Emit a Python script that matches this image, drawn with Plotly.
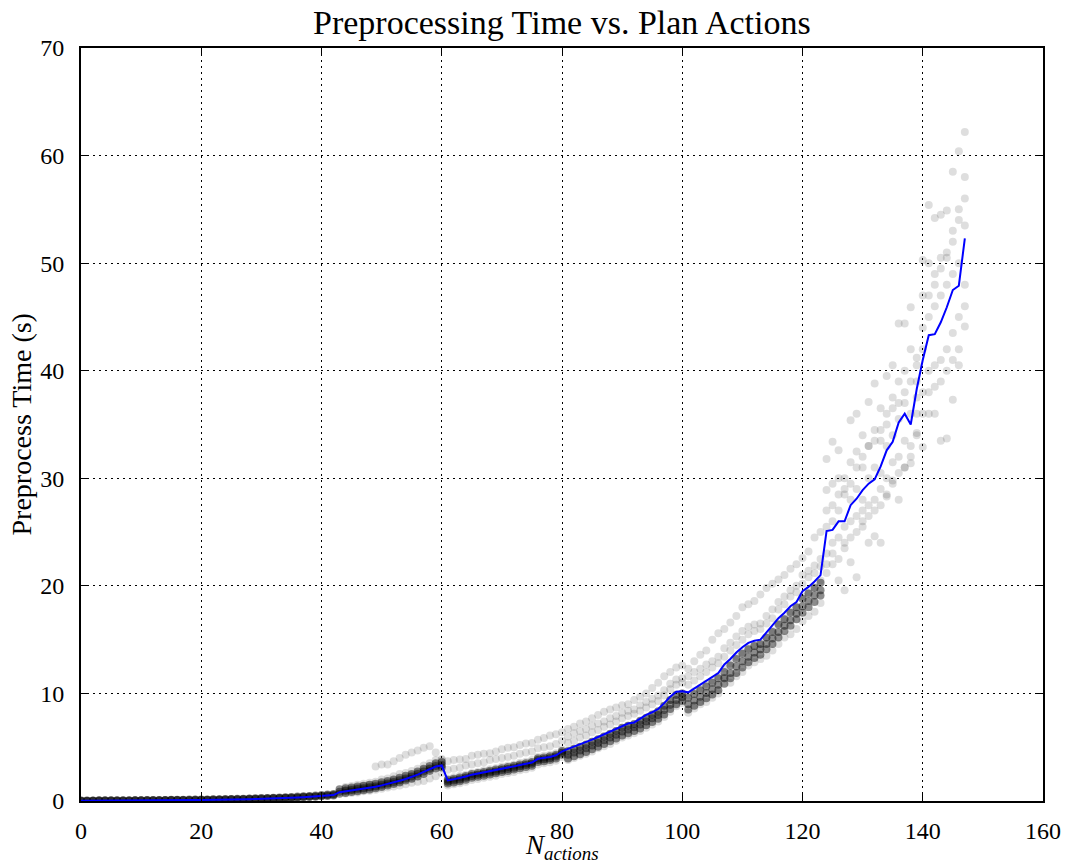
import plotly.graph_objects as go

# ---------------- data ----------------
x_all = list(range(0, 148))
mean_time = [
    0.02, 0.02, 0.02, 0.03, 0.03, 0.03, 0.03, 0.04, 0.04, 0.04,
    0.05, 0.05, 0.05, 0.06, 0.06, 0.07, 0.07, 0.08, 0.08, 0.09,
    0.10, 0.10, 0.11, 0.12, 0.13, 0.14, 0.15, 0.16, 0.17, 0.19,
    0.20, 0.22, 0.24, 0.26, 0.28, 0.30, 0.32, 0.35, 0.38, 0.41,
    0.44, 0.48, 0.55, 0.82, 0.90, 0.98, 1.06, 1.14, 1.23, 1.33,
    1.45, 1.58, 1.72, 1.88, 2.05, 2.22, 2.45, 2.70, 2.95, 3.20,
    3.30, 1.92, 2.02, 2.13, 2.28, 2.45, 2.55, 2.65, 2.76, 2.87,
    3.00, 3.10, 3.22, 3.34, 3.46, 3.58, 3.92, 4.00, 4.10, 4.25,
    4.60, 4.85, 5.05, 5.25, 5.45, 5.70, 5.95, 6.20, 6.45, 6.70,
    7.00, 7.20, 7.30, 7.65, 8.00, 8.25, 8.55, 9.10, 9.70, 10.15,
    10.20, 10.10, 10.45, 10.80, 11.15, 11.50, 11.90, 12.70, 13.20, 13.80,
    14.30, 14.70, 14.90, 15.00, 15.70, 16.30, 17.00, 17.50, 18.10, 18.50,
    19.50, 19.90, 20.40, 21.00, 25.10, 25.20, 26.00, 26.00, 27.50, 28.10,
    28.90, 29.50, 29.90, 31.10, 32.60, 33.40, 35.20, 36.00, 35.00, 38.30,
    41.00, 43.30, 43.40, 44.50, 45.90, 47.50, 47.90, 52.30,
]

# dense runs: N_actions 0..123
x_dense = list(range(0, 124))
run_d1 = [
    0.01, 0.01, 0.02, 0.02, 0.02, 0.02, 0.03, 0.03, 0.03, 0.04,
    0.04, 0.04, 0.05, 0.05, 0.06, 0.06, 0.07, 0.07, 0.08, 0.08,
    0.09, 0.09, 0.10, 0.11, 0.12, 0.13, 0.14, 0.15, 0.16, 0.18,
    0.19, 0.21, 0.23, 0.25, 0.27, 0.29, 0.31, 0.34, 0.37, 0.40,
    0.43, 0.47, 0.52,
    0.67, 0.75, 0.83, 0.91, 0.99, 1.08, 1.18, 1.30, 1.43, 1.57, 1.73, 1.90, 2.07, 2.28, 2.52, 2.78, 3.02, 3.12,
    1.62, 1.72, 1.83, 1.98, 2.15, 2.25, 2.35, 2.46, 2.57, 2.70, 2.80, 2.92, 3.04, 3.16, 3.28, 3.62, 3.70, 3.80, 3.95, 4.30,
    3.95, 4.15, 4.35, 4.55, 4.80, 5.05, 5.30, 5.55, 5.80, 6.10, 6.30, 6.50, 6.75, 7.05, 7.35, 7.65, 8.05, 8.55, 9.00, 9.30,
    8.50, 8.85, 9.20, 9.55, 9.90, 10.30, 10.90, 11.40, 11.90, 12.40, 12.90, 13.30, 13.60, 14.10, 14.60, 15.20, 15.80, 16.30, 16.90, 17.50, 18.00, 18.50, 19.10,
]
run_d2 = [
    0.03, 0.03, 0.03, 0.04, 0.04, 0.04, 0.05, 0.05, 0.05, 0.06,
    0.06, 0.07, 0.07, 0.08, 0.08, 0.09, 0.09, 0.10, 0.10, 0.11,
    0.12, 0.12, 0.13, 0.14, 0.15, 0.16, 0.17, 0.18, 0.20, 0.21,
    0.23, 0.25, 0.27, 0.29, 0.31, 0.33, 0.36, 0.39, 0.42, 0.45,
    0.49, 0.53, 0.58,
    0.87, 0.95, 1.03, 1.11, 1.19, 1.28, 1.38, 1.50, 1.63, 1.77, 1.93, 2.10, 2.27, 2.50, 2.75, 3.00, 3.25, 3.35,
    1.80, 1.90, 2.01, 2.16, 2.33, 2.43, 2.53, 2.64, 2.75, 2.88, 2.98, 3.10, 3.22, 3.34, 3.46, 3.80, 3.88, 3.98, 4.13, 4.48,
    4.30, 4.50, 4.70, 4.90, 5.15, 5.40, 5.65, 5.90, 6.15, 6.45, 6.65, 6.85, 7.10, 7.40, 7.70, 8.00, 8.45, 8.95, 9.40, 9.65,
    9.00, 9.35, 9.70, 10.05, 10.40, 10.80, 11.40, 11.90, 12.50, 13.00, 13.40, 13.80, 14.10, 14.60, 15.10, 15.70, 16.30, 16.80, 17.40, 18.10, 18.60, 19.10, 19.60,
]
run_d3 = [
    0.05, 0.05, 0.05, 0.06, 0.06, 0.06, 0.07, 0.07, 0.07, 0.08,
    0.08, 0.09, 0.09, 0.10, 0.10, 0.11, 0.11, 0.12, 0.13, 0.13,
    0.14, 0.15, 0.16, 0.17, 0.18, 0.19, 0.20, 0.22, 0.23, 0.25,
    0.27, 0.29, 0.31, 0.33, 0.35, 0.38, 0.41, 0.44, 0.47, 0.51,
    0.55, 0.60, 0.66,
    1.10, 1.18, 1.26, 1.34, 1.42, 1.51, 1.61, 1.74, 1.87, 2.01, 2.17, 2.35, 2.52, 2.75, 3.00, 3.25, 3.50, 3.62,
    1.97, 2.07, 2.18, 2.33, 2.50, 2.60, 2.70, 2.81, 2.92, 3.05, 3.15, 3.27, 3.39, 3.51, 3.63, 3.97, 4.05, 4.15, 4.30, 4.65,
    4.65, 4.85, 5.05, 5.25, 5.50, 5.75, 6.00, 6.25, 6.50, 6.80, 7.00, 7.15, 7.45, 7.75, 8.05, 8.35, 8.85, 9.40, 9.85, 10.00,
    9.60, 9.95, 10.30, 10.65, 11.00, 11.40, 12.00, 12.60, 13.20, 13.70, 14.10, 14.40, 14.60, 15.20, 15.70, 16.40, 16.90, 17.50, 18.00, 18.80, 19.30, 19.80, 20.30,
]

# sparse runs: N_actions 44..147
x_sparse = list(range(44, 148))
run_l1 = [
    1.05, 1.15, 1.20, 1.40, 1.50, 3.20, 3.40, 3.40, 3.70, 4.00, 4.30, 4.50, 4.70, 4.95, 5.10, 4.50, 3.90,
    3.70, 3.80, 3.85, 3.90, 4.20, 4.30, 4.40, 4.45, 4.60, 4.80, 4.95, 5.00, 5.20, 5.35, 5.40, 5.70, 5.85, 6.10, 6.20, 6.40,
    6.70, 6.90, 7.20, 7.40, 7.70, 8.00, 8.30, 8.50, 8.70, 8.90, 9.00, 9.40, 9.70, 10.00, 10.50, 11.00, 11.60, 12.00, 12.40, 12.60,
    12.30, 13.00, 13.60, 14.00, 15.00, 15.60, 16.00, 16.60, 17.20, 18.00, 18.30, 18.60, 19.20, 19.80, 20.20, 20.60, 21.00, 21.60, 22.00, 22.60, 23.20, 24.50, 25.00,
    31.8, 33.4, 32.6, 30.0, 35.4, 36.0, 34.0, 37.1, 38.8, 36.5, 39.5, 40.5, 44.4, 44.4, 45.9, 41.2, 50.3, 55.4, 54.2, 54.5, 54.9, 58.5, 60.4, 62.2,
]
run_l2 = [
    1.30, 1.40, 1.50, 1.60, 1.70, 1.80, 2.00, 2.10, 2.30, 2.50, 2.60, 2.80, 3.00, 3.30, 3.50, 3.80, 3.80,
    2.90, 3.00, 3.10, 3.30, 3.40, 3.50, 3.60, 3.80, 3.90, 4.00, 4.10, 4.20, 4.40, 4.50, 4.60, 4.90, 5.00, 5.10, 5.30, 5.60,
    6.00, 6.30, 6.50, 6.70, 7.00, 7.20, 7.40, 7.70, 7.90, 8.20, 8.40, 8.50, 8.90, 9.20, 9.50, 9.80, 10.30, 10.90, 11.30, 11.40,
    11.60, 12.00, 12.30, 12.70, 13.00, 13.40, 14.20, 14.70, 15.30, 15.80, 16.20, 16.40, 16.50, 17.20, 17.80, 18.50, 19.00, 19.60, 20.00, 21.00, 21.40, 21.90, 22.50,
    28.9, 29.5, 30.0, 28.5, 31.5, 32.5, 31.0, 33.0, 34.5, 33.5, 36.0, 37.5, 39.0, 40.0, 42.0, 39.0, 47.0, 50.0, 49.0, 50.5, 51.0, 53.0, 55.0, 58.0,
]
run_l3 = [
    0.70, 0.75, 0.80, 0.90, 0.95, 1.05, 1.15, 1.25, 1.35, 1.45, 1.55, 1.70, 1.80, 1.85, 2.10, 2.30, 2.60,
    1.45, 1.55, 1.65, 1.80, 1.95, 2.05, 2.15, 2.25, 2.35, 2.50, 2.60, 2.70, 2.85, 2.95, 3.10, 3.40, 3.50, 3.60, 3.75, 4.10,
    3.80, 4.00, 4.20, 4.40, 4.60, 4.90, 5.10, 5.30, 5.60, 5.90, 6.10, 6.30, 6.50, 6.80, 7.10, 7.40, 7.80, 8.30, 8.80, 9.10,
    8.20, 8.60, 9.00, 9.20, 9.60, 10.00, 11.50, 11.00, 11.60, 12.00, 12.60, 12.90, 13.20, 13.50, 14.00, 14.60, 15.20, 15.50, 16.00, 16.70, 17.20, 17.60, 18.40,
    21.2, 22.0, 20.5, 19.6, 22.2, 20.8, 25.5, 24.0, 24.6, 24.0, 28.3, 29.8, 28.0, 31.0, 31.4, 34.2, 32.9, 36.0, 36.0, 33.5, 33.7, 37.3, 40.5, 44.1,
]
run_l4 = [
    1.00, 1.10, 1.20, 1.25, 1.35, 1.50, 1.60, 1.75, 1.90, 2.00, 2.20, 2.40, 2.60, 2.90, 3.10, 3.40, 3.50,
    2.10, 2.20, 2.35, 2.45, 2.60, 2.70, 2.85, 2.95, 3.05, 3.20, 3.30, 3.40, 3.55, 3.65, 3.80, 4.10, 4.20, 4.30, 4.45, 4.80,
    5.40, 5.60, 5.90, 6.10, 6.40, 6.60, 6.90, 7.10, 7.40, 7.70, 7.90, 8.10, 8.40, 8.70, 9.00, 9.30, 9.80, 10.40, 10.80, 11.00,
    10.80, 11.20, 11.60, 12.00, 12.40, 12.80, 13.40, 14.00, 14.50, 15.00, 15.50, 15.80, 16.00, 16.50, 17.00, 17.80, 18.30, 19.00, 19.40, 20.20, 20.80, 21.20, 21.80,
    25.5, 26.0, 27.0, 25.5, 28.0, 29.0, 28.0, 30.0, 31.0, 30.5, 33.0, 34.0, 35.5, 37.0, 36.0, 37.5, 44.0, 45.0, 46.0, 47.0, 48.0, 49.0, 50.0, 53.5,
]
run_l5 = [
    0.85, 0.95, 1.00, 1.10, 1.20, 1.30, 1.40, 1.55, 1.65, 1.80, 2.00, 2.10, 2.30, 2.55, 2.85, 3.10, 3.20,
    1.85, 1.95, 2.05, 2.20, 2.35, 2.45, 2.55, 2.70, 2.80, 2.90, 3.00, 3.15, 3.25, 3.40, 3.50, 3.85, 3.90, 4.05, 4.20, 4.50,
    4.60, 4.80, 5.00, 5.20, 5.50, 5.70, 6.00, 6.20, 6.50, 6.80, 7.00, 7.10, 7.40, 7.70, 8.00, 8.30, 8.80, 9.40, 9.90, 10.00,
    9.80, 10.20, 10.50, 10.90, 11.20, 11.60, 12.30, 12.80, 13.40, 13.80, 14.20, 14.40, 14.60, 15.20, 15.80, 16.50, 17.00, 17.60, 18.00, 19.00, 19.40, 19.90, 20.50,
    23.0, 24.0, 24.5, 24.0, 26.0, 26.5, 27.0, 27.5, 28.0, 29.0, 30.0, 31.5, 32.0, 33.5, 33.0, 36.0, 38.0, 40.0, 40.5, 41.0, 42.0, 43.5, 45.0, 48.0,
]

# tail runs: N_actions 124..147
x_tail = list(range(124, 148))
run_t1 = [22.0, 23.0, 22.5, 23.5, 24.5, 25.0, 26.0, 26.5, 27.0, 27.5, 28.5, 29.5,
          30.5, 31.0, 32.0, 34.0, 36.0, 38.0, 38.5, 39.0, 40.0, 41.0, 42.0, 46.0]
run_t2 = [27.0, 27.5, 28.5, 29.0, 29.5, 31.0, 32.0, 33.0, 33.5, 34.5, 35.0, 36.5,
          37.0, 38.0, 39.0, 40.5, 42.0, 47.0, 48.0, 49.5, 50.5, 52.0, 54.0, 56.0]

x_ticks = [0, 20, 40, 60, 80, 100, 120, 140, 160]
y_ticks = [0, 10, 20, 30, 40, 50, 60, 70]

TITLE = "Preprocessing Time vs. Plan Actions"
X_LABEL = "<i>N</i><sub><i>actions</i></sub>"
Y_LABEL = "Preprocess Time (s)"

# ---------------- figure ----------------
SERIF = "Liberation Serif, DejaVu Serif, serif"
fig = go.Figure()

for ys in [run_l1, run_l2, run_l3, run_l4, run_l5]:
    fig.add_trace(go.Scatter(x=x_sparse, y=ys, mode="markers",
                             marker=dict(size=8, color="rgba(0,0,0,0.13)", line=dict(width=0)),
                             hoverinfo="skip", showlegend=False))
for ys in [run_t1, run_t2]:
    fig.add_trace(go.Scatter(x=x_tail, y=ys, mode="markers",
                             marker=dict(size=8, color="rgba(0,0,0,0.13)", line=dict(width=0)),
                             hoverinfo="skip", showlegend=False))
for ys in [run_d1, run_d2, run_d3]:
    fig.add_trace(go.Scatter(x=x_dense, y=ys, mode="markers",
                             marker=dict(size=8, color="rgba(0,0,0,0.45)", line=dict(width=0)),
                             hoverinfo="skip", showlegend=False))

fig.add_trace(go.Scatter(x=x_all, y=mean_time, mode="lines",
                         line=dict(color="#0000ff", width=2), showlegend=False))

axis_common = dict(
    showline=True, linecolor="black", linewidth=2, mirror="ticks",
    ticks="inside", ticklen=8, tickwidth=1.2, tickcolor="black",
    showgrid=True, gridcolor="black", gridwidth=1, griddash="1.5px,4.5px",
    zeroline=False,
    tickfont=dict(family=SERIF, size=24, color="black"),
)

fig.update_xaxes(range=[0, 160], tickvals=x_ticks, ticklabelstandoff=7, **axis_common)
fig.update_yaxes(range=[0, 70], tickvals=y_ticks, ticklabelstandoff=10, **axis_common)

fig.update_layout(
    width=1073, height=863,
    margin=dict(l=81, r=26, t=48, b=62),
    paper_bgcolor="white", plot_bgcolor="white",
    font=dict(family=SERIF, color="black"),
    annotations=[
        dict(text=TITLE, xref="paper", yref="paper", x=0.5, y=1.0, yshift=26,
             xanchor="center", yanchor="middle", showarrow=False,
             font=dict(family=SERIF, size=34, color="black")),
        dict(text=X_LABEL, xref="paper", yref="paper", x=0.5, y=0.0, yshift=-46,
             xanchor="center", yanchor="middle", showarrow=False,
             font=dict(family=SERIF, size=27, color="black")),
        dict(text=Y_LABEL, xref="paper", yref="paper", x=0.0, y=0.5, xshift=-60,
             xanchor="center", yanchor="middle", showarrow=False, textangle=-90,
             font=dict(family=SERIF, size=28, color="black")),
    ],
)

fig.write_html("out.html")
